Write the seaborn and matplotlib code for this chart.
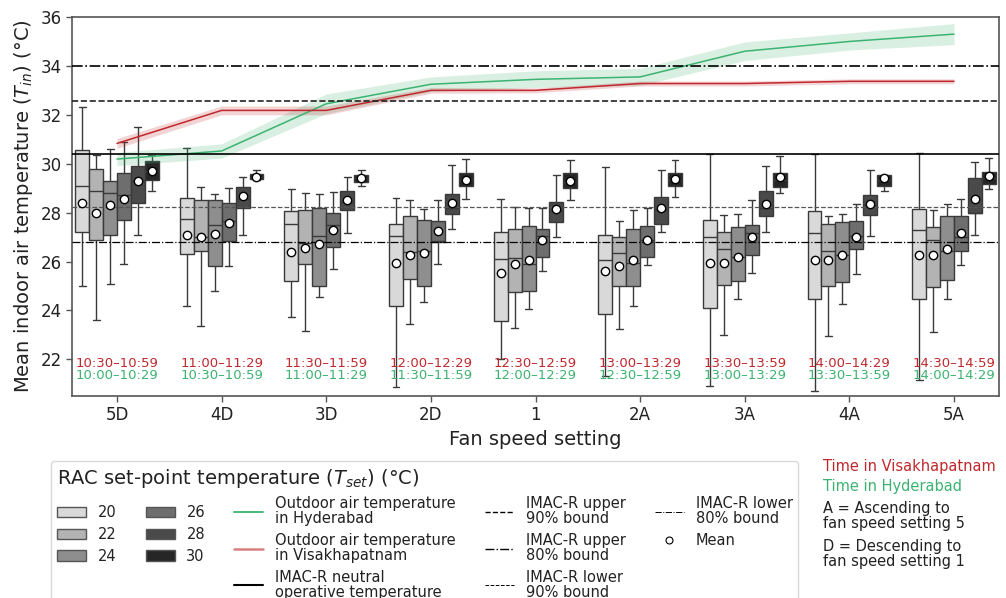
import numpy as np
import pandas as pd
import seaborn as sns
import matplotlib
matplotlib.use("Agg")
import matplotlib.pyplot as plt
from matplotlib.patches import Patch
from matplotlib.lines import Line2D

# ---------------- data ----------------
fan_levels = ["5D", "4D", "3D", "2D", "1", "2A", "3A", "4A", "5A"]
tset_levels = ["20", "22", "24", "26", "28", "30"]

# per fan level (rows) and set-point (columns: 20,22,24,26,28,30)
whis_lo = [
    [25.0, 23.6, 25.1, 25.9, 27.1, 28.9],
    [24.2, 23.35, 24.8, 25.8, 27.1, 29.33],
    [23.75, 23.15, 24.55, 25.7, 27.15, 29.1],
    [20.85, 23.45, 24.35, 25.9, 27.35, 28.55],
    [22.0, 23.3, 24.05, 25.6, 27.0, 28.5],
    [21.3, 23.25, 24.2, 25.85, 27.2, 28.65],
    [20.9, 23.0, 24.45, 25.55, 27.2, 28.8],
    [20.7, 22.95, 24.25, 25.5, 27.05, 28.9],
    [21.15, 23.1, 24.45, 25.85, 27.1, 28.95],
]
q1 = [
    [27.2, 26.9, 27.1, 27.7, 28.4, 29.35],
    [26.3, 26.45, 25.8, 26.85, 28.2, 29.37],
    [25.2, 25.9, 25.0, 26.6, 28.1, 29.25],
    [24.2, 25.3, 25.0, 26.8, 27.95, 29.1],
    [23.55, 24.75, 24.8, 26.2, 27.6, 29.0],
    [23.85, 25.0, 25.0, 26.2, 27.55, 29.1],
    [24.1, 25.05, 25.2, 26.25, 27.85, 29.05],
    [24.45, 25.0, 25.15, 26.5, 27.9, 29.1],
    [24.45, 24.95, 25.25, 26.45, 28.0, 29.15],
]
median = [
    [29.1, 28.9, 28.8, 28.7, 29.3, 29.7],
    [27.75, 27.0, 27.5, 27.65, 28.55, 29.47],
    [27.55, 26.75, 27.05, 27.5, 28.45, 29.4],
    [27.05, 26.4, 26.45, 26.85, 28.2, 29.35],
    [26.1, 26.15, 25.9, 27.05, 28.05, 29.27],
    [26.05, 26.35, 25.95, 26.9, 28.1, 29.35],
    [27.0, 26.5, 26.2, 27.15, 28.2, 29.35],
    [27.15, 26.45, 26.25, 27.05, 28.3, 29.35],
    [27.3, 26.9, 26.45, 27.0, 28.0, 29.4],
]
q3 = [
    [30.55, 29.8, 29.3, 29.6, 29.9, 30.1],
    [28.6, 28.5, 28.5, 28.4, 29.05, 29.58],
    [28.05, 28.1, 28.2, 28.0, 28.9, 29.55],
    [27.55, 27.85, 27.7, 27.65, 28.75, 29.6],
    [27.2, 27.35, 27.45, 27.35, 28.45, 29.62],
    [27.1, 27.0, 27.35, 27.45, 28.65, 29.6],
    [27.7, 27.2, 27.4, 27.5, 28.9, 29.6],
    [28.05, 27.55, 27.6, 27.65, 28.7, 29.55],
    [28.15, 27.4, 27.85, 27.85, 29.4, 29.65],
]
whis_hi = [
    [32.3, 30.35, 30.6, 30.9, 31.5, 30.35],
    [30.65, 29.05, 28.75, 29.0, 29.45, 29.75],
    [28.95, 28.8, 28.75, 28.85, 29.45, 29.75],
    [28.6, 28.5, 28.15, 28.5, 29.95, 30.2],
    [28.55, 28.25, 28.2, 28.2, 29.55, 30.15],
    [29.85, 27.65, 28.1, 28.2, 29.75, 30.15],
    [30.4, 27.9, 27.95, 28.5, 29.9, 30.3],
    [30.4, 27.85, 27.95, 28.35, 29.75, 29.55],
    [30.45, 28.1, 28.35, 28.55, 30.05, 30.25],
]
mean_vals = [
    [28.4, 28.0, 28.3, 28.55, 29.3, 29.7],
    [27.1, 27.0, 27.13, 27.58, 28.67, 29.47],
    [26.4, 26.55, 26.7, 27.3, 28.5, 29.42],
    [25.95, 26.25, 26.35, 27.25, 28.4, 29.35],
    [25.55, 25.9, 26.05, 26.9, 28.15, 29.3],
    [25.6, 25.8, 26.05, 26.9, 28.2, 29.38],
    [25.95, 25.95, 26.2, 27.0, 28.35, 29.45],
    [26.05, 26.05, 26.25, 27.0, 28.35, 29.4],
    [26.25, 26.25, 26.5, 27.15, 28.55, 29.5],
]

# outdoor air temperatures (line + band)
hyd_temp = [30.19, 30.52, 32.45, 33.25, 33.45, 33.55, 34.6, 35.0, 35.3]
hyd_lo = [29.92, 30.23, 32.05, 32.95, 33.12, 33.2, 34.22, 34.65, 34.87]
hyd_hi = [30.46, 30.81, 32.85, 33.55, 33.8, 33.9, 34.98, 35.35, 35.73]
vsk_temp = [30.83, 32.18, 32.18, 33.0, 33.0, 33.28, 33.28, 33.37, 33.37]
vsk_lo = [30.63, 32.0, 32.0, 32.88, 32.9, 33.18, 33.18, 33.27, 33.27]
vsk_hi = [31.03, 32.36, 32.36, 33.12, 33.1, 33.38, 33.38, 33.47, 33.47]

# IMAC-R reference temperatures
imac_neutral = 30.38
imac_upper90 = 32.55
imac_upper80 = 34.0
imac_lower90 = 28.25
imac_lower80 = 26.8

vsk_times = ["10:30–10:59", "11:00–11:29", "11:30–11:59", "12:00–12:29", "12:30–12:59",
             "13:00–13:29", "13:30–13:59", "14:00–14:29", "14:30–14:59"]
hyd_times = ["10:00–10:29", "10:30–10:59", "11:00–11:29", "11:30–11:59", "12:00–12:29",
             "12:30–12:59", "13:00–13:29", "13:30–13:59", "14:00–14:29"]

box_colors = ["#d9d9d9", "#b3b3b3", "#8e8e8e", "#6e6e6e", "#4a4a4a", "#262626"]
green = "#3cb371"
red = "#c0282d"

# ---------------- build tables ----------------
rows = []
for i, f in enumerate(fan_levels):
    for j, t in enumerate(tset_levels):
        for v in (whis_lo[i][j], q1[i][j], median[i][j], q3[i][j], whis_hi[i][j]):
            rows.append({"fan": f, "tset": t, "temp": v})
box_df = pd.DataFrame(rows)
mean_df = pd.DataFrame([{"fan": f, "tset": t, "temp": mean_vals[i][j]}
                        for i, f in enumerate(fan_levels) for j, t in enumerate(tset_levels)])

# ---------------- plot ----------------
sns.set_theme(style="ticks")
plt.rcParams["font.family"] = ["DejaVu Sans"]
plt.rcParams["axes.edgecolor"] = "#555555"
plt.rcParams["xtick.color"] = "#555555"
plt.rcParams["ytick.color"] = "#555555"
plt.rcParams["xtick.labelcolor"] = "#222222"
plt.rcParams["ytick.labelcolor"] = "#222222"

fig = plt.figure(figsize=(10.06, 5.98), dpi=100)
ax = fig.add_axes([72 / 1006, 1 - 396 / 598, 927 / 1006, 379 / 598])

pal = dict(zip(tset_levels, box_colors))
sns.boxplot(data=box_df, x="fan", y="temp", hue="tset", order=fan_levels,
            hue_order=tset_levels, palette=pal, whis=(0, 100), showfliers=False,
            width=0.8, linewidth=1.0, linecolor="#3a3a3a", legend=False, ax=ax)

sns.stripplot(data=mean_df, x="fan", y="temp", hue="tset", order=fan_levels,
              hue_order=tset_levels, palette={t: "white" for t in tset_levels},
              dodge=True, jitter=False, size=6, edgecolor="black", linewidth=1.0,
              legend=False, zorder=6, ax=ax)

xpos = np.arange(len(fan_levels))
ax.fill_between(xpos, hyd_lo, hyd_hi, color=green, alpha=0.2, linewidth=0, zorder=3)
ax.fill_between(xpos, vsk_lo, vsk_hi, color=red, alpha=0.2, linewidth=0, zorder=3)
sns.lineplot(x=xpos, y=hyd_temp, color=green, linewidth=1.1, ax=ax, zorder=4)
sns.lineplot(x=xpos, y=vsk_temp, color=red, linewidth=1.1, ax=ax, zorder=4)

ax.axhline(imac_neutral, color="black", lw=1.2, ls="-", zorder=4)
ax.axhline(imac_upper90, color="#222222", lw=1.2, ls="--", zorder=4)
ax.axhline(imac_upper80, color="black", lw=1.2, ls="-.", zorder=4)
ax.axhline(imac_lower90, color="#555555", lw=0.9, ls="--", zorder=4)
ax.axhline(imac_lower80, color="black", lw=0.9, ls="-.", zorder=4)

for i in range(len(fan_levels)):
    ax.text(i, 21.82, vsk_times[i], color=red, fontsize=9.5, ha="center", va="center")
    ax.text(i, 21.33, hyd_times[i], color=green, fontsize=9.5, ha="center", va="center")

ax.set_ylim(20.5, 36)
ax.set_xlim(-0.43, 8.43)
ax.set_yticks([22, 24, 26, 28, 30, 32, 34, 36])
ax.tick_params(axis="both", labelsize=12, length=4, width=1)
ax.set_xlabel("Fan speed setting", fontsize=14, color="#222222", labelpad=4)
ax.set_ylabel("Mean indoor air temperature ($T_{in}$) (°C)", fontsize=14, color="#222222")
for s in ax.spines.values():
    s.set_visible(True)
    s.set_color("#555555")
    s.set_linewidth(1.2)

# ---------------- legend ----------------
handles = [Patch(facecolor=c, edgecolor="#555555", linewidth=1) for c in box_colors]
labels = list(tset_levels)
handles += [
    Line2D([], [], color=green, lw=1.3),
    Line2D([], [], color="#d98080", lw=1.8),
    Line2D([], [], color="black", lw=1.5),
    Line2D([], [], color="black", lw=1.0, ls="--"),
    Line2D([], [], color="black", lw=1.0, ls="-."),
    Line2D([], [], color="black", lw=0.7, ls="--"),
    Line2D([], [], color="black", lw=0.7, ls="-."),
    Line2D([], [], color="black", lw=0, marker="o", markersize=5,
           markerfacecolor="white", markeredgecolor="black", markeredgewidth=0.8),
]
labels += [
    "Outdoor air temperature\nin Hyderabad",
    "Outdoor air temperature\nin Visakhapatnam",
    "IMAC-R neutral\noperative temperature",
    "IMAC-R upper\n90% bound",
    "IMAC-R upper\n80% bound",
    "IMAC-R lower\n90% bound",
    "IMAC-R lower\n80% bound",
    "Mean",
]
leg = fig.legend(handles, labels, loc="upper left",
                 bbox_to_anchor=(51 / 1006, 1 - 461 / 598), ncol=5,
                 title="RAC set-point temperature ($T_{set}$) (°C)", title_fontsize=14,
                 fontsize=10.5, columnspacing=2.0, handlelength=2.0, handletextpad=0.8,
                 labelspacing=0.45, alignment="left", frameon=True, borderaxespad=0,
                 fancybox=True)
leg.get_frame().set_edgecolor("#d0d0d0")
leg.get_frame().set_linewidth(1.0)
for t in leg.get_texts():
    t.set_linespacing(1.0)
    t.set_color("#222222")
leg.get_title().set_color("#222222")

# ---------------- side notes ----------------
fig.text(823 / 1006, 1 - 467 / 598, "Time in Visakhapatnam", color=red, fontsize=10.5, va="center")
fig.text(823 / 1006, 1 - 486 / 598, "Time in Hyderabad", color=green, fontsize=10.5, va="center")
fig.text(823 / 1006, 1 - 516 / 598, "A = Ascending to\nfan speed setting 5", color="#222222",
         fontsize=10.5, va="center", linespacing=1.0)
fig.text(823 / 1006, 1 - 554 / 598, "D = Descending to\nfan speed setting 1", color="#222222",
         fontsize=10.5, va="center", linespacing=1.0)

fig.savefig("out.png", dpi=100)
